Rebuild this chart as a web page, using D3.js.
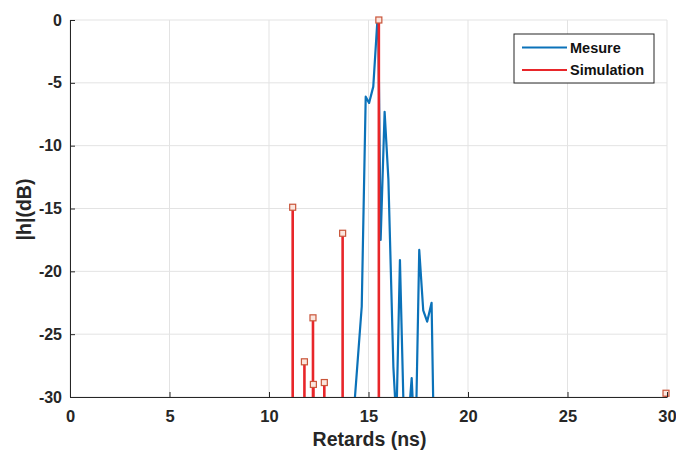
<!DOCTYPE html>
<html><head><meta charset="utf-8">
<script src="https://cdn.jsdelivr.net/npm/d3@7"></script>
<style>body{margin:0;background:#fff}svg{display:block}text{font-family:"Liberation Sans",Arial,sans-serif;font-weight:bold}</style>
</head><body><svg id="c" width="676" height="450"></svg>
<script>
const mesureX = [14.2, 14.32, 14.66, 14.86, 15.03, 15.24, 15.44, 15.49, 15.61, 15.81, 16.0, 16.25, 16.4, 16.58, 16.78, 16.95, 17.17, 17.3, 17.4, 17.55, 17.75, 17.95, 18.17, 18.28];
const mesureY = [-34, -30, -22.8, -6.1, -6.6, -5.3, -0.2, 0, -17.5, -7.3, -12.7, -27.6, -32, -19.1, -32, -33, -28.5, -33, -31, -18.3, -23.1, -24.0, -22.5, -33];
const simX = [11.19, 11.78, 12.21, 12.23, 12.78, 13.70, 15.52, 29.95];
const simY = [-14.9, -27.2, -23.7, -29.0, -28.85, -16.97, 0, -29.7];
const xTicks = [0, 5, 10, 15, 20, 25, 30];
const yTicks = [-30, -25, -20, -15, -10, -5, 0];
const seriesNames = ["Mesure", "Simulation"];
const colors = ["#0b72b9", "#e8262a"];

const svg = d3.select("#c");
const L = 70, R = 667, T = 20, B = 397;
const x = d3.scaleLinear().domain([0, 30]).range([L, R]);
const y = d3.scaleLinear().domain([-30, 0]).range([B, T]);
const fmt = d => String(d);

// grid
svg.append("g").selectAll("line").data(xTicks).join("line")
  .attr("x1", d => x(d)).attr("x2", d => x(d)).attr("y1", T).attr("y2", B)
  .attr("stroke", "#e3e3e3").attr("stroke-width", 1);
svg.append("g").selectAll("line").data(yTicks).join("line")
  .attr("x1", L).attr("x2", R).attr("y1", d => y(d)).attr("y2", d => y(d))
  .attr("stroke", "#e3e3e3").attr("stroke-width", 1);

svg.append("clipPath").attr("id", "clip").append("rect")
  .attr("x", L).attr("y", T - 5).attr("width", R - L + 5).attr("height", B - T + 5);

const plot = svg.append("g").attr("clip-path", "url(#clip)");
const mData = mesureX.map((d, i) => [d, mesureY[i]]);
plot.append("path").datum(mData)
  .attr("d", d3.line().x(d => x(d[0])).y(d => y(d[1])))
  .attr("fill", "none").attr("stroke", colors[0]).attr("stroke-width", 2.2).attr("stroke-linejoin", "round");

const sData = simX.map((d, i) => [d, simY[i]]);
svg.append("g").selectAll("line").data(sData).join("line")
  .attr("x1", d => x(d[0])).attr("x2", d => x(d[0]))
  .attr("y1", y(-30)).attr("y2", d => y(d[1]))
  .attr("stroke", colors[1]).attr("stroke-width", 2.6);
svg.append("g").selectAll("rect").data(sData).join("rect")
  .attr("x", d => x(d[0]) - 3).attr("y", d => y(d[1]) - 3)
  .attr("width", 6).attr("height", 6)
  .attr("fill", "#fbe6de").attr("stroke", "#c9553a").attr("stroke-width", 1.2);

// axes
const xAxis = d3.axisBottom(x).tickValues(xTicks).tickFormat(fmt).tickSize(-5).tickPadding(13).tickSizeOuter(0);
const gx = svg.append("g").attr("transform", `translate(0,${B})`).call(xAxis);
const yAxis = d3.axisLeft(y).tickValues(yTicks).tickFormat(fmt).tickSize(-5).tickPadding(8).tickSizeOuter(0);
const gy = svg.append("g").attr("transform", `translate(${L},0)`).call(yAxis);
[gx, gy].forEach(g => {
  g.selectAll(".domain").attr("stroke", "#262626").attr("stroke-width", 1);
  g.selectAll(".tick line").attr("stroke", "#262626");
  g.selectAll(".tick text").attr("fill", "#262626").style("font-family", "Liberation Sans, Arial, sans-serif").style("font-weight", "bold");
});
gx.selectAll(".tick text").style("font-size", "16.5px");
gy.selectAll(".tick text").style("font-size", "16px");

svg.append("text").attr("x", (L + R) / 2 + 1).attr("y", 446).attr("text-anchor", "middle")
  .attr("fill", "#262626").style("font-size", "19.5px").text("Retards (ns)");
svg.append("text").attr("transform", `translate(31,${(T + B) / 2 + 1}) rotate(-90)`).attr("text-anchor", "middle")
  .attr("fill", "#262626").style("font-size", "19.5px").text("|h|(dB)");

// legend
const lg = svg.append("g");
lg.append("rect").attr("x", 514).attr("y", 34).attr("width", 140).attr("height", 49)
  .attr("fill", "#fff").attr("stroke", "#262626").attr("stroke-width", 1);
seriesNames.forEach((n, i) => {
  const yy = 47.5 + i * 22.5;
  lg.append("line").attr("x1", 522).attr("x2", 567).attr("y1", yy).attr("y2", yy)
    .attr("stroke", colors[i]).attr("stroke-width", 2.2);
  lg.append("text").attr("x", 570).attr("y", yy + 5).attr("fill", "#111").style("font-size", "14.5px").text(n);
});
</script></body></html>
